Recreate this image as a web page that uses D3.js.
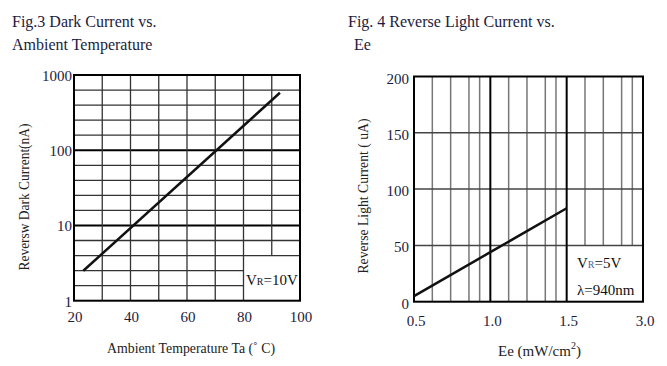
<!DOCTYPE html>
<html>
<head>
<meta charset="utf-8">
<script src="https://cdn.jsdelivr.net/npm/d3@7"></script>
<style>
  body { margin: 0; background: #fff; }
  svg { display: block; font-family: 'Liberation Serif', 'Times New Roman', serif; }
  .title { font-size: 16px; fill: #1c1c40; }
  .tick-label { font-size: 15px; fill: #1c1c40; }
  .axis-label { font-size: 15px; fill: #222; }
  .note { font-size: 15px; fill: #111; }
</style>
</head>
<body>
<div id="chart"></div>
<script>
// ---- Fig.3 dark current vs ambient temperature ----
const darkTemp = [23.3, 92.9];
const darkCurrent = [2.5, 580];
const tempTicks = [20, 40, 60, 80, 100];
const tempGrid = [20, 30, 40, 50, 60, 70, 80, 90, 100];
const currentTicks = [1, 10, 100, 1000];
const currentMinorGrid = [1.585, 2.512, 3.981, 6.310, 15.85, 25.12, 39.81, 63.10, 158.5, 251.2, 398.1, 631.0];

// ---- Fig.4 reverse light current vs Ee ----
const eeValues = [0.5, 1.0, 1.5];
const lightCurrent = [5, 44, 83];
const eeTicks = [0.5, 1.0, 1.5, 3.0];
const eeMinorGrid = [0.62, 0.74, 0.86, 0.93, 1.12, 1.24, 1.36, 1.43, 1.86, 2.22, 2.58, 2.79];
const lightTicks = [0, 50, 100, 150, 200];
const lightGrid = [50, 100, 150];

const svg = d3.select('#chart').append('svg')
  .attr('width', 667).attr('height', 366);

// ----------------------------
// left chart
// ----------------------------
const L = { left: 74, right: 300, top: 75, bottom: 300.7 };
const xL = d3.scaleLinear().domain([20, 100]).range([L.left, L.right]);
const yL = d3.scaleLog().domain([1, 1000]).range([L.bottom, L.top]);

svg.append('text').attr('class', 'title').attr('x', 12).attr('y', 27).text('Fig.3 Dark Current vs.');
svg.append('text').attr('class', 'title').attr('x', 12).attr('y', 50).text('Ambient Temperature');

const gL = svg.append('g');
const boxTopL = 3.981; // the VR label box sits below this line, right of 80

// minor horizontal lines
gL.selectAll('.hminor').data(currentMinorGrid).enter().append('line')
  .attr('x1', L.left)
  .attr('x2', d => d < boxTopL - 0.01 ? xL(80) : L.right)
  .attr('y1', d => yL(d)).attr('y2', d => yL(d))
  .attr('stroke', '#333').attr('stroke-width', 1.3);

// major horizontal lines
gL.selectAll('.hmajor').data([10, 100]).enter().append('line')
  .attr('x1', L.left).attr('x2', L.right)
  .attr('y1', d => yL(d)).attr('y2', d => yL(d))
  .attr('stroke', '#000').attr('stroke-width', 2);

// vertical lines
gL.selectAll('.vline').data(tempGrid.slice(1, -1)).enter().append('line')
  .attr('x1', d => xL(d)).attr('x2', d => xL(d))
  .attr('y1', L.top)
  .attr('y2', d => d > 80 ? yL(boxTopL) : L.bottom)
  .attr('stroke', '#333').attr('stroke-width', 1.3);

gL.append('rect')
  .attr('x', L.left).attr('y', L.top)
  .attr('width', L.right - L.left).attr('height', L.bottom - L.top)
  .attr('fill', 'none').attr('stroke', '#000').attr('stroke-width', 2);

gL.append('path')
  .datum(darkTemp.map((t, i) => [t, darkCurrent[i]]))
  .attr('d', d3.line().x(d => xL(d[0])).y(d => yL(d[1])))
  .attr('fill', 'none').attr('stroke', '#111').attr('stroke-width', 2.5);

gL.selectAll('.ytick').data(currentTicks).enter().append('text')
  .attr('class', 'tick-label')
  .attr('x', L.left - 2)
  .attr('y', d => yL(d) + 6)
  .attr('text-anchor', 'end')
  .text(d => d);

gL.selectAll('.xtick').data(tempTicks).enter().append('text')
  .attr('class', 'tick-label')
  .attr('x', d => xL(d) + 1)
  .attr('y', 322)
  .attr('text-anchor', 'middle')
  .text(d => d);

const noteL = gL.append('text').attr('class', 'note').attr('x', 246).attr('y', 285);
noteL.append('tspan').text('V');
noteL.append('tspan').attr('font-size', 10).text('R');
noteL.append('tspan').text('=10V');

gL.append('text').attr('class', 'axis-label')
  .attr('transform', 'translate(29,197) rotate(-90)')
  .attr('text-anchor', 'middle')
  .attr('textLength', 147).attr('lengthAdjust', 'spacingAndGlyphs')
  .text('Reversw Dark Current(nA)');

gL.append('text').attr('class', 'axis-label')
  .attr('x', 191).attr('y', 353)
  .attr('text-anchor', 'middle')
  .attr('textLength', 168).attr('lengthAdjust', 'spacingAndGlyphs')
  .text('Ambient Temperature Ta (\u02DA C)');

// ----------------------------
// right chart
// ----------------------------
const R = { left: 414, right: 643, top: 76.5, bottom: 301.7 };
const segW = (R.right - R.left) / 3;
const xR = d3.scaleLinear().domain(eeTicks)
  .range([R.left, R.left + segW, R.left + 2 * segW, R.right]);
const yR = d3.scaleLinear().domain([0, 200]).range([R.bottom, R.top]);

svg.append('text').attr('class', 'title').attr('x', 348).attr('y', 27).text('Fig. 4 Reverse Light Current vs.');
svg.append('text').attr('class', 'title').attr('x', 354).attr('y', 50).text('Ee');

const gR = svg.append('g');

gR.selectAll('.vminor').data(eeMinorGrid).enter().append('line')
  .attr('x1', d => xR(d)).attr('x2', d => xR(d))
  .attr('y1', R.top)
  .attr('y2', d => d > 1.5 ? yR(50) : R.bottom)
  .attr('stroke', '#777').attr('stroke-width', 1.5);

gR.selectAll('.hline').data(lightGrid).enter().append('line')
  .attr('x1', R.left).attr('x2', R.right)
  .attr('y1', d => yR(d)).attr('y2', d => yR(d))
  .attr('stroke', '#444').attr('stroke-width', 1.5);

gR.selectAll('.vmajor').data([1.0, 1.5]).enter().append('line')
  .attr('x1', d => xR(d)).attr('x2', d => xR(d))
  .attr('y1', R.top).attr('y2', R.bottom)
  .attr('stroke', '#000').attr('stroke-width', 2);

gR.append('rect')
  .attr('x', R.left).attr('y', R.top)
  .attr('width', R.right - R.left).attr('height', R.bottom - R.top)
  .attr('fill', 'none').attr('stroke', '#000').attr('stroke-width', 2);

gR.append('path')
  .datum(eeValues.map((e, i) => [e, lightCurrent[i]]))
  .attr('d', d3.line().x(d => xR(d[0])).y(d => yR(d[1])))
  .attr('fill', 'none').attr('stroke', '#111').attr('stroke-width', 2.5);

gR.selectAll('.ytick').data(lightTicks).enter().append('text')
  .attr('class', 'tick-label')
  .attr('x', R.left - 5)
  .attr('y', d => yR(d) + 7)
  .attr('text-anchor', 'end')
  .text(d => d);

gR.selectAll('.xtick').data(eeTicks).enter().append('text')
  .attr('class', 'tick-label')
  .attr('x', d => xR(d) + 2)
  .attr('y', 326)
  .attr('text-anchor', 'middle')
  .text(d => d.toFixed(1));

const noteR = gR.append('text').attr('class', 'note').attr('x', 577).attr('y', 268);
noteR.append('tspan').text('V');
noteR.append('tspan').attr('font-size', 10).attr('fill', '#3a6ab0').text('R');
noteR.append('tspan').text('=5V');
gR.append('text').attr('class', 'note').attr('x', 577).attr('y', 295).text('\u03BB=940nm');

gR.append('text').attr('class', 'axis-label')
  .attr('transform', 'translate(368,196) rotate(-90)')
  .attr('text-anchor', 'middle')
  .attr('textLength', 155).attr('lengthAdjust', 'spacingAndGlyphs')
  .text('Reverse Light Current ( uA)');

const xlabR = gR.append('text').attr('class', 'axis-label')
  .attr('x', 498).attr('y', 356);
xlabR.append('tspan').text('Ee (mW/cm');
xlabR.append('tspan').attr('font-size', 10).attr('dy', -7).text('2');
xlabR.append('tspan').attr('dy', 7).text(')');
</script>
</body>
</html>
